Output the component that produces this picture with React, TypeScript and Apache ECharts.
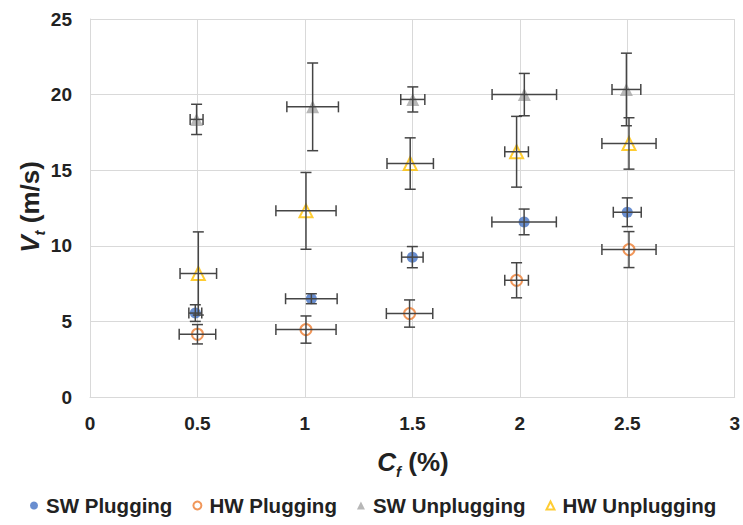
import React, { useEffect, useRef } from "react";
import * as echarts from "echarts";

const seriesNames = ["SW Plugging", "HW Plugging", "SW Unplugging", "HW Unplugging"];

const swPlugX = [0.49, 1.03, 1.5, 2.02, 2.5];
const swPlugY = [5.55, 6.5, 9.25, 11.58, 12.22];
const swPlugXErr = [0.03, 0.12, 0.05, 0.15, 0.065];
const swPlugYErr = [0.55, 0.33, 0.7, 0.85, 0.95];

const hwPlugX = [0.5, 1.005, 1.487, 1.985, 2.508];
const hwPlugY = [4.15, 4.46, 5.52, 7.72, 9.75];
const hwPlugXErr = [0.085, 0.14, 0.108, 0.055, 0.126];
const hwPlugYErr = [0.64, 0.9, 0.9, 1.16, 1.19];

const swUnplugX = [0.496, 1.036, 1.502, 2.021, 2.496];
const swUnplugY = [18.36, 19.19, 19.68, 20.0, 20.34];
const swUnplugXErr = [0.03, 0.12, 0.056, 0.15, 0.067];
const swUnplugYErr = [1.0, 2.9, 0.83, 1.4, 2.4];

const hwUnplugX = [0.504, 1.005, 1.49, 1.985, 2.508];
const hwUnplugY = [8.17, 12.31, 15.44, 16.22, 16.77];
const hwUnplugXErr = [0.085, 0.14, 0.108, 0.055, 0.126];
const hwUnplugYErr = [2.75, 2.54, 1.7, 2.34, 1.7];

const FONT = "'Liberation Sans', Arial, Helvetica, sans-serif";
const TXT = "#222222";
const ERR_COLOR = "#454545";

function build(xs: number[], ys: number[], xe: number[], ye: number[]) {
  return xs.map((x, i) => [x, ys[i], xe[i], ye[i]]);
}

function errorSeries(name: string, data: number[][]) {
  return {
    type: "custom",
    name: name + " err",
    z: 5,
    silent: true,
    data,
    renderItem: (params: any, api: any) => {
      const x = api.value(0);
      const y = api.value(1);
      const xe = api.value(2);
      const ye = api.value(3);
      const l = api.coord([x - xe, y]);
      const r = api.coord([x + xe, y]);
      const t = api.coord([x, y + ye]);
      const b = api.coord([x, y - ye]);
      const c = 5.5;
      const style = { stroke: ERR_COLOR, lineWidth: 1.5 };
      const line = (x1: number, y1: number, x2: number, y2: number) => ({
        type: "line",
        shape: { x1, y1, x2, y2 },
        style,
      });
      return {
        type: "group",
        children: [
          line(l[0], l[1], r[0], r[1]),
          line(t[0], t[1], b[0], b[1]),
          line(l[0], l[1] - c, l[0], l[1] + c),
          line(r[0], r[1] - c, r[0], r[1] + c),
          line(t[0] - c, t[1], t[0] + c, t[1]),
          line(b[0] - c, b[1], b[0] + c, b[1]),
        ],
      };
    },
  };
}

const nameRich = {
  i: { fontFamily: FONT, fontSize: 26, fontWeight: "bold", fontStyle: "italic", fill: TXT, lineHeight: 34 },
  s: { fontFamily: FONT, fontSize: 15, fontWeight: "bold", fontStyle: "italic", fill: TXT, lineHeight: 15, verticalAlign: "bottom" },
  n: { fontFamily: FONT, fontSize: 26, fontWeight: "bold", fill: TXT, lineHeight: 34 },
};

export default function App() {
  const ref = useRef<HTMLDivElement>(null);
  useEffect(() => {
    document.body.style.margin = "0";
    const chart = echarts.init(ref.current!, null, { renderer: "svg" });
    const swP = build(swPlugX, swPlugY, swPlugXErr, swPlugYErr);
    const hwP = build(hwPlugX, hwPlugY, hwPlugXErr, hwPlugYErr);
    const swU = build(swUnplugX, swUnplugY, swUnplugXErr, swUnplugYErr);
    const hwU = build(hwUnplugX, hwUnplugY, hwUnplugXErr, hwUnplugYErr);
    chart.setOption({
      animation: false,
      backgroundColor: "#ffffff",
      textStyle: { fontFamily: FONT },
      grid: { left: 90, right: 6, top: 19, bottom: 128, containLabel: false },
      graphic: [
        {
          type: "text",
          x: 413,
          y: 462,
          style: {
            text: "{i|C}{s|f}{n| (%)}",
            rich: nameRich,
            align: "center",
            verticalAlign: "middle",
          },
        },
        {
          type: "text",
          x: 30,
          y: 207,
          rotation: Math.PI / 2,
          style: {
            text: "{i|V}{s|t}{n| (m/s)}",
            rich: nameRich,
            align: "center",
            verticalAlign: "middle",
          },
        },
      ],
      legend: {
        data: [
          { name: seriesNames[0], icon: "circle" },
          { name: seriesNames[1], icon: "emptyCircle" },
          { name: seriesNames[2], icon: "triangle" },
          { name: seriesNames[3], icon: "emptyTriangle" },
        ],
        left: 25,
        top: 490,
        itemWidth: 8,
        itemHeight: 8,
        itemGap: 20,
        textStyle: { fontFamily: FONT, fontWeight: "bold", fontSize: 20.5, color: TXT, padding: [0, 0, 0, 3] },
      },
      xAxis: {
        type: "value",
        min: 0,
        max: 3,
        interval: 0.5,
        axisLine: { show: true, lineStyle: { color: "#d9d9d9" } },
        axisTick: { show: false },
        splitLine: { show: true, lineStyle: { color: "#d9d9d9", width: 1 } },
        axisLabel: { fontFamily: FONT, fontSize: 19, fontWeight: "bold", color: TXT, margin: 17 },
      },
      yAxis: {
        type: "value",
        min: 0,
        max: 25,
        interval: 5,
        axisLine: { show: true, lineStyle: { color: "#d9d9d9" } },
        axisTick: { show: false },
        splitLine: { show: true, lineStyle: { color: "#d9d9d9", width: 1 } },
        axisLabel: { fontFamily: FONT, fontSize: 19, fontWeight: "bold", color: TXT, margin: 18 },
      },
      series: [
        {
          type: "scatter",
          name: seriesNames[0],
          data: swP.map((d) => [d[0], d[1]]),
          symbol: "circle",
          symbolSize: 11,
          itemStyle: { color: "#4472C4" },
          z: 3,
        },
        errorSeries(seriesNames[0], swP),
        {
          type: "scatter",
          name: seriesNames[1],
          data: hwP.map((d) => [d[0], d[1]]),
          symbol: "emptyCircle",
          symbolSize: 11,
          itemStyle: { color: "#ED7D31", borderWidth: 1.2 },
          z: 3,
        },
        errorSeries(seriesNames[1], hwP),
        {
          type: "scatter",
          name: seriesNames[2],
          data: swU.map((d) => [d[0], d[1]]),
          symbol: "triangle",
          symbolSize: 13,
          itemStyle: { color: "#A5A5A5" },
          z: 3,
        },
        errorSeries(seriesNames[2], swU),
        {
          type: "scatter",
          name: seriesNames[3],
          data: hwU.map((d) => [d[0], d[1]]),
          symbol: "emptyTriangle",
          symbolSize: 13,
          itemStyle: { color: "#FFC000", borderWidth: 1.2 },
          z: 3,
        },
        errorSeries(seriesNames[3], hwU),
      ],
    });
    return () => chart.dispose();
  }, []);
  return <div ref={ref} style={{ width: 743, height: 525 }} />;
}
